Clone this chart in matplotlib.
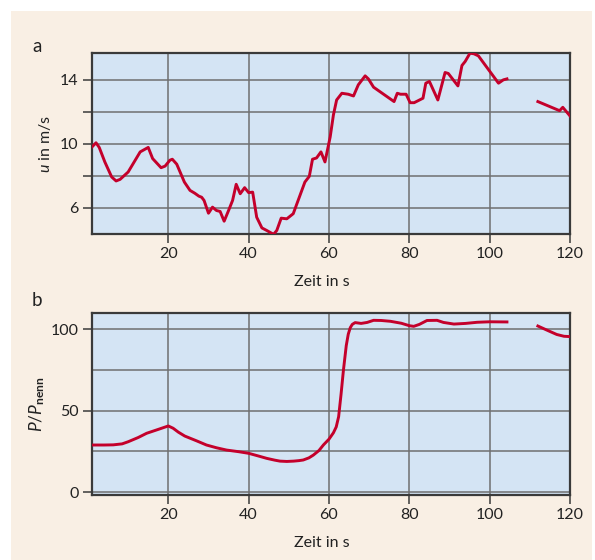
import matplotlib
matplotlib.use("Agg")
import matplotlib.pyplot as plt
from matplotlib.patches import Rectangle

# Wind speed (panel a), two recorded segments
u_time_1 = [1, 2, 2.8, 4.2, 5.9, 7, 8, 10, 13, 15, 16.1, 18.2, 19.2, 20.4, 21, 22.1,
            24, 25.4, 26.6, 27.6, 28.3, 28.9, 30, 31, 32, 32.9, 33.9, 35, 36, 36.9,
            37.9, 39, 40, 41, 42, 43.3, 44.5, 46.2, 47, 48.1, 49.5, 51.1, 54, 55.1,
            55.9, 56.9, 58, 59, 60.3, 61.1, 61.9, 63.2, 64.8, 66.1, 67.3, 69, 69.8,
            71.1, 76.2, 77, 77.8, 79.2, 80.2, 81.2, 83.4, 84.1, 85, 87.1, 88.9, 89.7,
            92.1, 93.1, 93.9, 95.1, 96.1, 97.2, 102.2, 103.4, 104.3]
u_speed_1 = [9.8, 10.06, 9.77, 8.86, 7.92, 7.67, 7.77, 8.23, 9.49, 9.77, 9.07, 8.5,
             8.6, 8.97, 9.03, 8.72, 7.6, 7.08, 6.9, 6.72, 6.65, 6.45, 5.65, 6.03, 5.82,
             5.76, 5.15, 5.82, 6.45, 7.46, 6.87, 7.25, 6.94, 6.97, 5.4, 4.73, 4.57,
             4.33, 4.57, 5.34, 5.3, 5.62, 7.6, 7.96, 9.03, 9.11, 9.49, 8.86, 10.43,
             11.8, 12.74, 13.16, 13.1, 12.99, 13.69, 14.25, 14.06, 13.54, 12.64, 13.16,
             13.1, 13.1, 12.57, 12.57, 12.85, 13.79, 13.9, 12.74, 14.46, 14.4, 13.62,
             14.9, 15.15, 15.67, 15.63, 15.5, 13.79, 14.0, 14.06]
u_time_2 = [112, 117.4, 118.2, 120]
u_speed_2 = [12.64, 12.07, 12.28, 11.74]

# Relative power output (panel b), two recorded segments
p_time_1 = [1, 4, 6.3, 8.5, 10, 12.5, 14.6, 17.5, 20, 21.2, 22.5, 24.1, 27, 29.5,
            32, 34.5, 37.5, 40, 42.5, 44.5, 46.5, 47.8, 49.5, 51.2, 52.5, 53.6,
            55, 56.1, 57.5, 58.6, 60, 61.1, 61.8, 62.4, 63, 63.6, 64.3, 64.8, 65.3,
            65.8, 66.5, 68, 69.5, 71.1, 73, 75.3, 78, 80, 81.1, 82.5, 84.4, 86.9,
            88.5, 91.1, 94, 96.9, 100, 104.3]
p_rel_1 = [28.9, 28.9, 29.0, 29.6, 30.9, 33.5, 36.1, 38.5, 40.6, 39.2, 36.8, 34.4,
           31.5, 28.9, 27.2, 25.8, 24.8, 23.8, 22.1, 20.7, 19.6, 19.0, 18.8, 19.0,
           19.3, 19.7, 21.0, 22.7, 25.5, 28.9, 32.5, 36.4, 40.0, 46.3, 60.0, 75.0,
           90.0, 97.0, 101.0, 103.0, 104.1, 103.6, 104.2, 105.5, 105.4, 104.9, 103.7,
           102.2, 101.8, 103.0, 105.4, 105.5, 104.2, 103.2, 103.6, 104.3, 104.6, 104.5]
p_time_2 = [112, 114.5, 116.7, 118.5, 120]
p_rel_2 = [102.0, 99.2, 96.8, 95.7, 95.5]

x_ticks = [20, 40, 60, 80, 100, 120]
u_ticks_labeled = [6, 10, 14]
u_ticks_all = [6, 8, 10, 12, 14]
p_ticks = [0, 50, 100]
p_grid = [0, 25, 50, 75, 100]

FONT = ["Lato", "DejaVu Sans"]
plt.rcParams["font.family"] = FONT
plt.rcParams["mathtext.fontset"] = "custom"
plt.rcParams["mathtext.rm"] = "Lato"
plt.rcParams["mathtext.it"] = "Lato:italic"
plt.rcParams["mathtext.bf"] = "Lato:bold"

BG = "#f9efe4"
FACE = "#d4e4f4"
GRID = "#6f6f70"
SPINE = "#3a3a3a"
RED = "#c4002b"
TXT = "#222222"
FS = 11.5

fig = plt.figure(figsize=(5.95, 5.6), dpi=100)
fig.patch.set_facecolor("white")
fig.patches.append(Rectangle((11 / 595, 0), 581 / 595, 549 / 560,
                             transform=fig.transFigure, facecolor=BG,
                             edgecolor="none", zorder=-10))

ax1 = fig.add_axes([0.1546, 0.5816, 0.8034, 0.3243])
ax2 = fig.add_axes([0.1546, 0.1161, 0.8034, 0.3244])


def style(ax):
    ax.set_facecolor(FACE)
    for sp in ax.spines.values():
        sp.set_color(SPINE)
        sp.set_linewidth(1.6)
    ax.tick_params(direction="out", length=6.5, width=1.1, color=SPINE,
                   labelsize=FS, labelcolor=TXT, pad=3)
    ax.set_xlim(1, 120)
    ax.set_xticks(x_ticks)
    for xv in x_ticks[:-1]:
        ax.axvline(xv, color=GRID, lw=1.1, zorder=1)
    ax.set_xlabel("Zeit in s", fontsize=FS, color=TXT)
    ax.xaxis.set_label_coords(0.48, -0.225)


# Panel a: wind speed
style(ax1)
ax1.set_ylim(4.33, 15.7)
ax1.set_yticks(u_ticks_all)
ax1.set_yticklabels([str(v) if v in u_ticks_labeled else "" for v in u_ticks_all])
for yv in u_ticks_all:
    ax1.axhline(yv, color=GRID, lw=1.1, zorder=1)
ax1.plot(u_time_1, u_speed_1, color=RED, lw=2.1, zorder=3, solid_joinstyle="round")
ax1.plot(u_time_2, u_speed_2, color=RED, lw=2.1, zorder=3, solid_joinstyle="round")
ax1.set_ylabel(r"$\mathit{u}$ in m/s", fontsize=FS, color=TXT, labelpad=5)
fig.text(37 / 595, 1 - 47 / 560, "a", fontsize=13.5, color=TXT,
         ha="center", va="center")

# Panel b: relative power
style(ax2)
ax2.set_ylim(-1.8, 109.8)
ax2.set_yticks(p_ticks)
for yv in p_grid:
    ax2.axhline(yv, color=GRID, lw=1.1, zorder=1)
ax2.plot(p_time_1, p_rel_1, color=RED, lw=2.1, zorder=3, solid_joinstyle="round")
ax2.plot(p_time_2, p_rel_2, color=RED, lw=2.1, zorder=3, solid_joinstyle="round")
ax2.set_ylabel(r"$\mathit{P/P}_{\mathbf{nenn}}$", fontsize=FS + 1, color=TXT,
               labelpad=3)
fig.text(37 / 595, 1 - 301 / 560, "b", fontsize=13.5, color=TXT,
         ha="center", va="center")

fig.savefig("out.png", dpi=100, facecolor=fig.get_facecolor())
